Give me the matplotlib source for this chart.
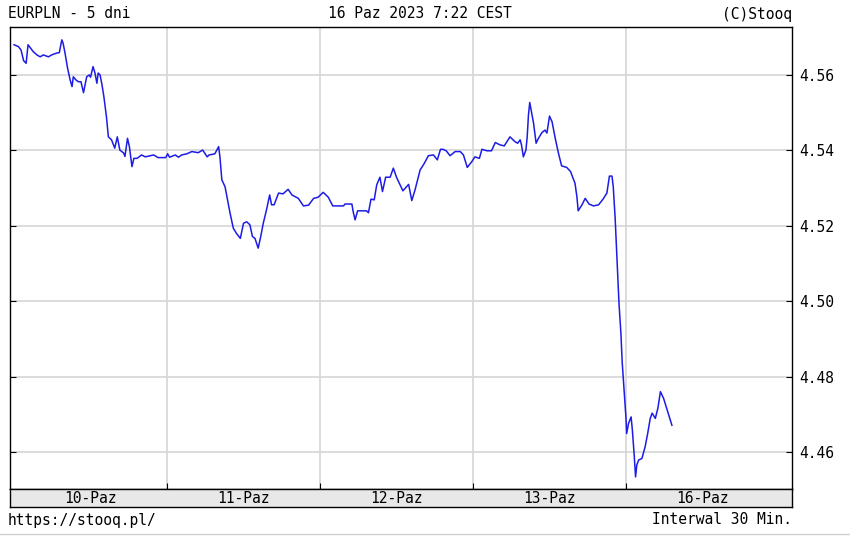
import matplotlib
matplotlib.use("Agg")
import matplotlib.pyplot as plt

# EURPLN, 30-min bars; x = hours since 10-Paz 00:00 (weekend skipped, 16-Paz starts at 96 h)
hours = [
    0.0, 0.7, 1.1, 1.5, 1.9, 2.2, 2.6, 3.0, 3.6, 4.1, 4.6, 5.4, 5.9, 6.7, 7.1, 7.5,
    7.7, 8.0, 8.4, 8.8, 9.1, 9.3, 9.7, 10.1, 10.5, 10.9, 11.4, 11.8, 12.0, 12.4, 12.7,
    13.0, 13.2, 13.5, 13.8, 14.1, 14.5, 14.8, 15.3, 15.8, 16.2, 16.6, 17.2, 17.4, 17.8,
    18.1, 18.5, 18.8, 19.3, 20.0, 20.6, 21.9, 22.6, 23.8, 24.1, 24.4, 25.3, 25.8, 26.3,
    27.1, 27.9, 28.9, 29.6, 30.3, 30.6, 31.5, 32.1, 32.3, 32.6, 33.1, 33.6, 33.9, 34.4,
    34.9, 35.5, 36.0, 36.5, 37.0, 37.4, 37.8, 38.3, 38.7, 39.1, 39.6, 40.1, 40.4, 40.8,
    41.5, 42.2, 43.0, 43.6, 44.6, 45.4, 46.2, 47.0, 47.7, 48.5, 49.3, 50.0, 51.7, 51.9,
    53.0, 53.2, 53.5, 53.9, 55.3, 55.6, 56.0, 56.5, 56.9, 57.4, 57.8, 58.3, 59.0, 59.5,
    60.0, 61.0, 61.9, 62.4, 62.9, 63.7, 64.3, 65.0, 65.8, 66.4, 66.9, 67.3, 67.8, 68.4,
    69.2, 70.0, 70.5, 71.1, 71.8, 72.3, 73.0, 73.4, 74.2, 74.9, 75.5, 76.2, 76.9, 77.8,
    78.6, 79.0, 79.4, 79.6, 79.9, 80.3, 80.5, 80.7, 80.9, 81.2, 81.5, 81.9, 82.2, 82.8,
    83.3, 83.6, 84.0, 84.4, 84.9, 85.4, 85.9, 86.7, 87.3, 88.0, 88.3, 88.5, 89.1, 89.6,
    90.2, 90.9, 91.7, 92.4, 93.0, 93.4, 93.8, 94.0, 94.3, 94.5, 94.7, 94.9, 95.2, 95.4,
    95.7, 96.0, 96.1, 96.4, 96.8, 97.0, 97.3, 97.5, 97.7, 98.0, 98.5, 99.0, 99.4, 99.8,
    100.1, 100.6, 101.0, 101.4, 101.9, 102.3, 102.8, 103.2,
]
prices = [
    4.5680, 4.5675, 4.5666, 4.5638, 4.5631, 4.5680, 4.5671, 4.5662, 4.5653, 4.5648,
    4.5653, 4.5648, 4.5653, 4.5658, 4.5659, 4.5693, 4.5684, 4.5658, 4.5618, 4.5587,
    4.5569, 4.5595, 4.5587, 4.5582, 4.5582, 4.5553, 4.5595, 4.5600, 4.5594, 4.5622,
    4.5605, 4.5578, 4.5605, 4.5600, 4.5574, 4.5542, 4.5489, 4.5436, 4.5428, 4.5406,
    4.5436, 4.5401, 4.5393, 4.5384, 4.5432, 4.5410, 4.5357, 4.5379, 4.5379, 4.5388,
    4.5383, 4.5388, 4.5381, 4.5381, 4.5391, 4.5382, 4.5388, 4.5382, 4.5388, 4.5391,
    4.5397, 4.5394, 4.5401, 4.5383, 4.5388, 4.5391, 4.5410, 4.5383, 4.5322, 4.5304,
    4.5260, 4.5233, 4.5194, 4.5180, 4.5167, 4.5207, 4.5211, 4.5203, 4.5172, 4.5167,
    4.5141, 4.5172, 4.5207, 4.5242, 4.5282, 4.5256, 4.5256, 4.5287, 4.5285, 4.5297,
    4.5282, 4.5273, 4.5253, 4.5255, 4.5273, 4.5276, 4.5289, 4.5276, 4.5253, 4.5253,
    4.5258, 4.5258, 4.5238, 4.5216, 4.5240, 4.5240, 4.5235, 4.5271, 4.5269, 4.5309,
    4.5329, 4.5291, 4.5329, 4.5329, 4.5353, 4.5329, 4.5293, 4.5310, 4.5267, 4.5295,
    4.5348, 4.5364, 4.5386, 4.5388, 4.5375, 4.5403, 4.5403, 4.5399, 4.5386, 4.5397,
    4.5397, 4.5388, 4.5355, 4.5370, 4.5383, 4.5379, 4.5403, 4.5399, 4.5399, 4.5421,
    4.5415, 4.5412, 4.5436, 4.5423, 4.5419, 4.5428, 4.5415, 4.5383, 4.5401, 4.5436,
    4.5494, 4.5527, 4.5499, 4.5472, 4.5419, 4.5430, 4.5447, 4.5454, 4.5446, 4.5491,
    4.5476, 4.5432, 4.5393, 4.5359, 4.5355, 4.5344, 4.5313, 4.5277, 4.5240, 4.5256,
    4.5273, 4.5258, 4.5253, 4.5256, 4.5271, 4.5287, 4.5332, 4.5332, 4.5304, 4.5220,
    4.5145, 4.5070, 4.4995, 4.4916, 4.4840, 4.4765, 4.4690, 4.4650, 4.4677, 4.4694,
    4.4659, 4.4589, 4.4535, 4.4567, 4.4580, 4.4584, 4.4615, 4.4650, 4.4690, 4.4704,
    4.4690, 4.4717, 4.4761, 4.4743, 4.4721, 4.4694, 4.4672,
]

day_labels = ["10-Paz", "11-Paz", "12-Paz", "13-Paz", "16-Paz"]
day_starts = [0, 24, 48, 72, 96]
y_ticks = [4.46, 4.48, 4.50, 4.52, 4.54, 4.56]

MONO = "DejaVu Sans Mono"
FS = 10.5

fig = plt.figure(figsize=(8.5, 5.39), dpi=100)
ax = fig.add_axes([10 / 850, 50 / 539, 782 / 850, 462 / 539])

ax.plot(hours, prices, color="#1c1ce6", linewidth=1.1, zorder=3)

ax.set_xlim(-0.63, 122.04)
ax.set_ylim(4.4503, 4.5727)
ax.set_xticks(day_starts[1:])
ax.set_yticks(y_ticks)
ax.grid(True, color="#d6d6d6", linewidth=1.2, zorder=0)
ax.tick_params(axis="both", direction="in", length=4, color="black",
               left=True, right=True, bottom=True, top=False,
               labelbottom=False, labelleft=False, labelright=True, pad=5)
for lbl in ax.get_yticklabels():
    lbl.set_fontfamily(MONO)
    lbl.set_fontsize(FS)
ax.set_yticklabels([f"{v:.2f}" for v in y_ticks])
for lbl in ax.get_yticklabels():
    lbl.set_fontfamily(MONO)
    lbl.set_fontsize(FS)
for sp in ax.spines.values():
    sp.set_color("black")
    sp.set_linewidth(1.0)

# date band below the plot
band = fig.add_axes([10 / 850, 32 / 539, 782 / 850, 18 / 539])
band.set_facecolor("#e8e8e8")
band.set_xlim(ax.get_xlim())
band.set_ylim(0, 1)
band.set_xticks([])
band.set_yticks([])
for sp in band.spines.values():
    sp.set_color("black")
    sp.set_linewidth(1.0)
for start, lab in zip(day_starts, day_labels):
    band.text(start + 12, 0.45, lab, ha="center", va="center",
              family=MONO, fontsize=FS)

fig.text(8 / 850, 1 - 14 / 539, "EURPLN - 5 dni", ha="left", va="center",
         family=MONO, fontsize=FS)
fig.text(420 / 850, 1 - 14 / 539, "16 Paz 2023 7:22 CEST", ha="center", va="center",
         family=MONO, fontsize=FS)
fig.text(792 / 850, 1 - 14 / 539, "(C)Stooq", ha="right", va="center",
         family=MONO, fontsize=FS)
fig.text(8 / 850, 1 - 520 / 539, "https://stooq.pl/", ha="left", va="center",
         family=MONO, fontsize=FS)
fig.text(792 / 850, 1 - 520 / 539, "Interwal 30 Min.", ha="right", va="center",
         family=MONO, fontsize=FS)
fig.add_artist(plt.Line2D([0, 1], [1 - 534 / 539] * 2, color="#d0d0d0",
                          linewidth=1.0, transform=fig.transFigure))

fig.savefig("out.png", dpi=100)
